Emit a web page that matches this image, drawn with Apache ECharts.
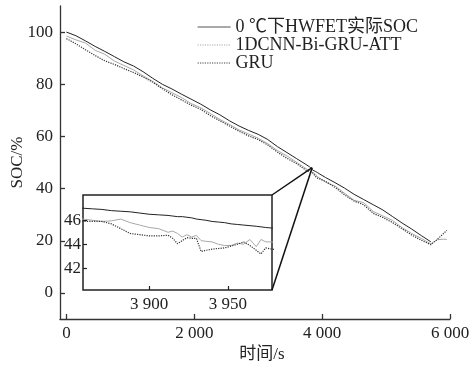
<!DOCTYPE html>
<html><head><meta charset="utf-8">
<script src="https://cdn.jsdelivr.net/npm/echarts@6/dist/echarts.min.js"></script>
<style>html,body{margin:0;padding:0;background:#fff}#c{width:471px;height:366px}</style>
</head><body><div id="c"></div>
<script>
// ---- data ----
const seriesNames = ['0 ℃下HWFET实际SOC', '1DCNN-Bi-GRU-ATT', 'GRU'];
const times = [0,150,300,450,600,750,900,1050,1200,1350,1500,1650,1800,1950,2100,2250,2400,2550,2700,2850,3000,3150,3300,3450,3600,3750,3800,
  3858,3864,3870,3876,3882,3888,3894,3900,3906,3912,3915,3918,3921,3924,3927,3930,3933,3936,3940,3944,3948,3952,3956,3960,3964,3968,3971,3974,3978,
  4050,4200,4350,4500,4650,4800,4950,5100,5250,5400,5550,5700,5800,5900,5950];
const actualSOC = [100,98.6,96.6,94.5,92.6,90.6,88.6,87.0,84.8,82.3,80.0,78.2,76.2,74.3,72.4,70.2,68.3,66.0,64.0,62.3,60.8,58.8,56.1,53.8,51.5,49.2,48.4,
  47.0,46.95,46.9,46.8,46.75,46.7,46.6,46.5,46.45,46.4,46.35,46.3,46.3,46.25,46.2,46.1,46.05,46.0,45.9,45.85,45.8,45.7,45.65,45.6,45.55,45.5,45.45,45.4,45.35,
  44.3,42.3,40.2,37.8,35.8,33.8,31.8,29.3,26.8,24.5,22.0,19.6,null,null,null];
const cnnSOC = [98.5,97.0,95.8,93.0,91.5,88.9,87.2,85.5,83.2,81.1,78.6,76.8,74.9,72.6,71.0,68.8,66.5,64.6,62.5,60.9,59.3,57.2,54.6,52.5,50.1,47.6,47.0,
  46.1,46.0,45.9,45.95,46.1,45.8,45.6,45.4,45.3,45.0,45.1,44.9,44.6,44.8,44.6,44.75,44.3,44.25,44.2,44.0,43.9,43.9,44.1,44.0,44.4,43.8,44.4,44.2,44.2,
  42.5,41.0,38.2,35.5,34.6,31.2,29.5,27.8,25.0,22.8,20.9,18.8,20.4,20.6,20.5];
const gruSOC = [97.5,95.5,93.2,91.0,89.0,87.6,86.0,84.5,82.8,80.8,78.3,76.0,74.0,72.0,70.4,68.0,66.0,64.0,62.0,60.2,58.8,56.7,54.0,51.6,49.6,47.0,46.5,
  45.9,45.9,45.9,45.7,45.3,44.9,44.8,44.7,44.7,44.75,44.5,44.05,44.3,44.55,44.5,44.5,43.4,43.5,43.6,43.65,43.7,43.85,44.0,44.2,43.9,43.5,43.2,43.7,43.6,
  42.8,40.5,37.6,35.2,33.8,30.5,28.9,27.0,24.6,22.2,20.2,18.5,20.5,22.8,24.0];
const xTickValues = [0,2000,4000,6000];
const xTickLabels = ['0','2 000','4 000','6 000'];
const yTickValues = [0,20,40,60,80,100];
const insetXTickValues = [3900,3950];
const insetXTickLabels = ['3 900','3 950'];
const insetYTickValues = [42,44,46];
const insetRange = {x0:3858, x1:3978, y0:40.2, y1:48.1};
const zoomPoint = [3844, 48];

// ---- chart ----
const FONT = '"Liberation Serif","Times New Roman","Noto Sans CJK SC",serif';
const pairs = arr => times.map((t,i)=>[t, arr[i]]);
const styles = [
  {color:'#222', type:'solid', width:1},
  {color:'#a8a8a8', type:'solid', width:1},
  {color:'#333', type:'dotted', width:1.2}
];
const dataSets = [actualSOC, cnnSOC, gruSOC];
const chart = echarts.init(document.getElementById('c'), null, {renderer:'canvas'});
const series = [];
[0,1].forEach(g => {
  dataSets.forEach((d,k) => {
    series.push({
      name: seriesNames[k], type:'line', xAxisIndex:g, yAxisIndex:g,
      data: pairs(d), showSymbol:false, symbol:'none', connectNulls:false,
      lineStyle:{color:styles[k].color, type:styles[k].type, width:styles[k].width},
      itemStyle:{color:styles[k].color}, animation:false, z: g===1 ? 10 : 2, clip:true
    });
  });
});
const fmt = (vals, labels) => v => { const i = vals.indexOf(v); return i>=0 ? labels[i] : ''; };
const axisLineStyle = {color:'#333', width:1.3};
const hiddenSymbol = {color:'rgba(0,0,0,0)', borderColor:'rgba(0,0,0,0)', borderWidth:0};
chart.setOption({
  animation:false,
  backgroundColor:'#fff',
  textStyle:{fontFamily:FONT},
  legend:{
    show:true, orient:'vertical', left:197, top:18, padding:0, itemWidth:33, itemHeight:14, itemGap:0,
    textStyle:{fontFamily:FONT, fontSize:18, lineHeight:18, color:'#222'},
    itemStyle: hiddenSymbol,
    data:[
      {name:seriesNames[0], itemStyle:hiddenSymbol, lineStyle:{width:1, color:'#555'}},
      {name:seriesNames[1], itemStyle:hiddenSymbol, lineStyle:{width:1.2, type:'dotted', color:'#aaa'}},
      {name:seriesNames[2], itemStyle:hiddenSymbol, lineStyle:{width:1.2, type:'dotted', color:'#444'}}
    ]
  },
  grid:[
    {left:60, right:21, top:6, bottom:47, containLabel:false, outerBoundsMode:'none'},
    {left:83, top:195, width:189, height:95, show:true, borderColor:'#222', borderWidth:1.5, backgroundColor:'#fff', z:5, outerBoundsMode:'none'}
  ],
  xAxis:[
    {type:'value', gridIndex:0, min:-100, max:6000,
     axisLine:{show:true, onZero:false, lineStyle:axisLineStyle},
     axisTick:{show:true, inside:true, length:5, customValues:xTickValues, lineStyle:axisLineStyle},
     axisLabel:{customValues:xTickValues, formatter:fmt(xTickValues,xTickLabels), fontSize:17, color:'#222', margin:6, fontFamily:FONT},
     splitLine:{show:false},
     name:'时间/s', nameLocation:'middle', nameGap:27, nameMoveOverlap:false,
     nameTextStyle:{fontSize:17, color:'#222', fontFamily:FONT, padding:[0,0,0,14], verticalAlign:'top'}},
    {type:'value', gridIndex:1, min:insetRange.x0, max:insetRange.x1,
     axisLine:{show:false, onZero:false},
     axisTick:{show:true, inside:true, length:4, customValues:insetXTickValues, lineStyle:{color:'#222', width:1.2}},
     axisLabel:{customValues:insetXTickValues, formatter:fmt(insetXTickValues,insetXTickLabels), fontSize:17, color:'#222', margin:6, fontFamily:FONT},
     splitLine:{show:false}, z:6}
  ],
  yAxis:[
    {type:'value', gridIndex:0, min:-10, max:110,
     axisLine:{show:true, onZero:false, lineStyle:axisLineStyle},
     axisTick:{show:true, inside:true, length:5, customValues:yTickValues, lineStyle:axisLineStyle},
     axisLabel:{customValues:yTickValues, fontSize:17, color:'#222', margin:7, fontFamily:FONT},
     splitLine:{show:false},
     name:'SOC/%', nameLocation:'middle', nameGap:34, nameMoveOverlap:false,
     nameTextStyle:{fontSize:17, color:'#222', fontFamily:FONT}},
    {type:'value', gridIndex:1, min:insetRange.y0, max:insetRange.y1,
     axisLine:{show:false, onZero:false},
     axisTick:{show:true, inside:true, length:4, customValues:insetYTickValues, lineStyle:{color:'#222', width:1.2}},
     axisLabel:{customValues:insetYTickValues, fontSize:17, color:'#222', margin:2, fontFamily:FONT},
     splitLine:{show:false}, z:6}
  ],
  series: series
});
// connector lines from inset right corners to the zoomed spot on the main plot
const pTop = chart.convertToPixel({xAxisIndex:1, yAxisIndex:1}, [insetRange.x1, insetRange.y1]);
const pBot = chart.convertToPixel({xAxisIndex:1, yAxisIndex:1}, [insetRange.x1, insetRange.y0]);
const pZ = chart.convertToPixel({xAxisIndex:0, yAxisIndex:0}, zoomPoint);
chart.setOption({graphic:[
  {type:'line', shape:{x1:pTop[0], y1:pTop[1], x2:pZ[0], y2:pZ[1]}, style:{stroke:'#111', lineWidth:1.5}, z:20},
  {type:'line', shape:{x1:pBot[0], y1:pBot[1], x2:pZ[0], y2:pZ[1]}, style:{stroke:'#111', lineWidth:1.5}, z:20}
]});
</script></body></html>
